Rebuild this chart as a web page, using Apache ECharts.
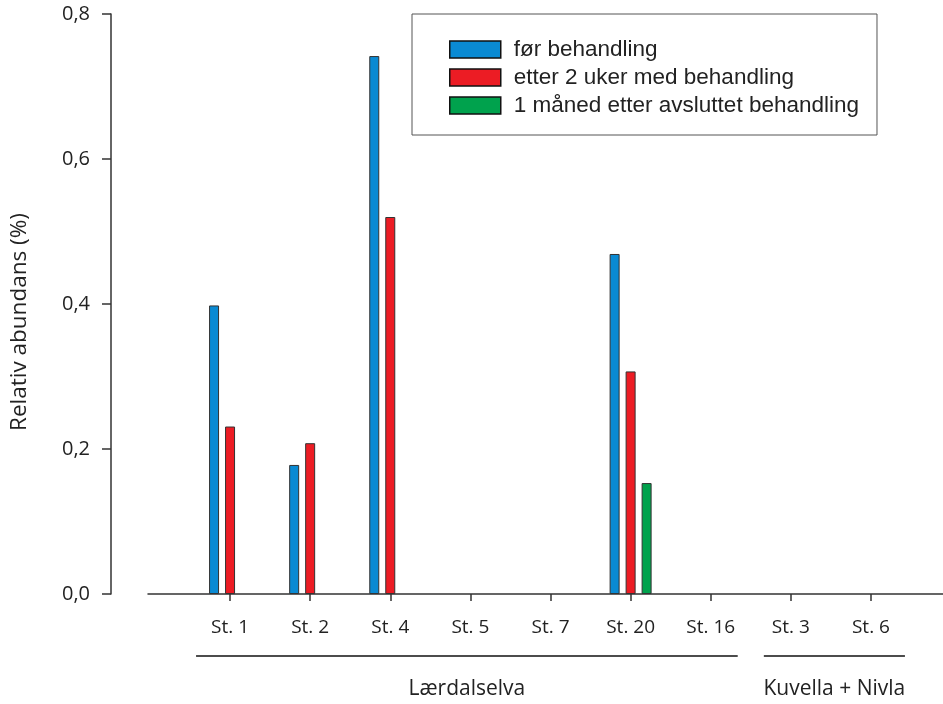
<!DOCTYPE html>
<html>
<head>
<meta charset="utf-8">
<script src="https://cdn.jsdelivr.net/npm/echarts@6/dist/echarts.min.js"></script>
<style>
  html, body { margin: 0; padding: 0; background: #fff; }
  #chart { width: 943px; height: 704px; }
</style>
</head>
<body>
<div id="chart"></div>
<script>
// data
const stations = ['St. 1', 'St. 2', 'St. 4', 'St. 5', 'St. 7', 'St. 20', 'St. 16', 'St. 3', 'St. 6'];
const forBehandling = [0.398, 0.178, 0.742, null, null, 0.469, null, null, null];
const etter2Uker = [0.231, 0.208, 0.520, null, null, 0.307, null, null, null];
const enManedEtter = [null, null, null, null, null, 0.153, null, null, null];
const yTicks = [0, 0.2, 0.4, 0.6, 0.8];
const groups = [
  { name: 'Lærdalselva', from: 'St. 1', to: 'St. 16' },
  { name: 'Kuvella + Nivla', from: 'St. 3', to: 'St. 6' }
];

const chart = echarts.init(document.getElementById('chart'));
const ink = '#222';
const axisFont = 'Open Sans';

const barSeries = (name, color, data) => ({
  name: name,
  type: 'bar',
  xAxisIndex: 0,
  yAxisIndex: 0,
  barWidth: 10,
  barGap: '60%',
  itemStyle: { color: color, borderColor: '#333', borderWidth: 1 },
  data: data
});

const option = {
  animation: false,
  grid: [
    { left: 188, right: 32, top: 14, bottom: 110 },
    // only carries the long x axis line
    { left: 148, right: 0, top: 14, bottom: 110 }
  ],
  legend: {
    orient: 'vertical',
    left: 412,
    top: 14,
    padding: [24, 18, 18, 37],
    borderColor: '#555',
    borderWidth: 1,
    itemWidth: 51,
    itemHeight: 17,
    itemGap: 5,
    icon: 'rect',
    itemStyle: { borderColor: '#111', borderWidth: 1.5 },
    textStyle: {
      fontFamily: 'Liberation Sans', fontSize: 22.5, color: ink,
      padding: [0, 0, 0, 8]
    },
    data: ['før behandling', 'etter 2 uker med behandling', '1 måned etter avsluttet behandling']
  },
  xAxis: [
    {
      type: 'category',
      gridIndex: 0,
      data: stations,
      axisLine: { show: false },
      axisTick: { show: true, alignWithLabel: true, length: 7, lineStyle: { color: '#333', width: 1.5 } },
      axisLabel: { fontFamily: axisFont, fontSize: 19, color: ink, margin: 24 }
    },
    {
      type: 'value',
      gridIndex: 1,
      axisLine: { show: true, lineStyle: { color: '#333', width: 1.5 } },
      axisTick: { show: false },
      axisLabel: { show: false },
      splitLine: { show: false }
    }
  ],
  yAxis: [
    {
      type: 'value',
      gridIndex: 0,
      min: yTicks[0],
      max: yTicks[yTicks.length - 1],
      interval: 0.2,
      offset: 79,
      name: 'Relativ abundans (%)',
      nameLocation: 'middle',
      nameGap: 80,
      nameTextStyle: { fontFamily: axisFont, fontSize: 22.5, color: ink, padding: [0, 36, 0, 0] },
      axisLine: { show: true, lineStyle: { color: '#333', width: 1.5 } },
      axisTick: { show: true, length: 9, lineStyle: { color: '#333', width: 1.5 } },
      axisLabel: {
        fontFamily: axisFont, fontSize: 20, color: ink, margin: 21,
        formatter: v => v.toFixed(1).replace('.', ',')
      },
      splitLine: { show: false }
    },
    { type: 'value', gridIndex: 1, show: false }
  ],
  series: [
    barSeries('før behandling', '#0a8ad3', forBehandling),
    barSeries('etter 2 uker med behandling', '#ec1c24', etter2Uker),
    barSeries('1 måned etter avsluttet behandling', '#00a24d', enManedEtter)
  ]
};

chart.setOption(option);

// group brackets under the category labels
const lineY = 656;
const graphics = [];
groups.forEach((g, i) => {
  const x0 = chart.convertToPixel({ xAxisIndex: 0 }, g.from);
  const x1 = chart.convertToPixel({ xAxisIndex: 0 }, g.to);
  const a = x0 - (i === 0 ? 34 : 27);
  const b = x1 + (i === 0 ? 27 : 34);
  graphics.push({
    type: 'line',
    shape: { x1: a, y1: lineY, x2: b, y2: lineY },
    style: { stroke: '#111', lineWidth: 1.5 }
  });
  graphics.push({
    type: 'text',
    x: (a + b) / 2,
    y: 689,
    style: {
      text: g.name, fontFamily: axisFont, fontSize: 21, fill: ink,
      align: 'center', verticalAlign: 'middle'
    }
  });
});
chart.setOption({ graphic: graphics });
</script>
</body>
</html>
